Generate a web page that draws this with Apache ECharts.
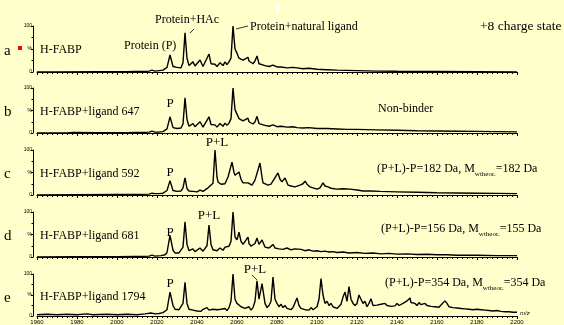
<!DOCTYPE html>
<html>
<head>
<meta charset="utf-8">
<script src="https://cdn.jsdelivr.net/npm/echarts@6/dist/echarts.min.js"></script>
<style>
html, body { margin: 0; padding: 0; background: #ffffcc; }
#chart { width: 564px; height: 325px; }
</style>
</head>
<body>
<div id="chart"></div>
<script>
// m/z range and ticks of the spectra (+8 charge state)
const mzMin = 1960
const mzMax = 2200
const mzStep = 20

// spectra: [m/z, relative intensity %]
const specA = [[1960,0],[1970,0],[1990,0.5],[2005,0.5],[2009,1],[2010,3],[2011,1],[2014,1],[2016,2],[2017.5,4],[2019,2],[2021,3],[2023,4],[2024,6],[2025,10],[2026.5,37],[2028,12],[2029,9],[2030,10],[2031,8],[2032,9],[2033,20],[2034,85],[2035,30],[2036,14],[2037,15],[2038,22],[2039,13],[2040,16],[2041.5,26],[2043,12],[2044,14],[2046,39],[2047,18],[2048,14],[2049,17],[2050,12],[2051.5,20],[2053,14],[2054,22],[2055,16],[2056,22],[2057,30],[2058,100],[2059,50],[2060,41],[2061,30],[2062,33],[2063,26],[2064,28],[2065.5,32],[2066,24],[2067,20],[2068,18],[2069,24],[2070,35],[2071,18],[2072,15],[2074,14],[2076,12],[2078,15],[2080,11],[2082,11],[2085,9],[2088,10],[2090,9],[2093,7],[2096,8],[2100,6],[2105,5],[2110,4],[2115,3.5],[2120,3],[2130,2],[2140,1.5],[2160,1],[2180,0.5],[2200,0]]

const specB = [[1960,0],[1975,0],[1978,1],[1979,2],[1980,1],[1990,0.5],[2005,0.5],[2009,1],[2010,2.5],[2011,1],[2014,1.5],[2016,2],[2017.5,4],[2019,2],[2021,2],[2023,3],[2024,5],[2025,9],[2026.5,36],[2028,12],[2029,8],[2030,10],[2031,9],[2032,11],[2033,20],[2034,78],[2035,30],[2036,15],[2037,17],[2038,21],[2039,14],[2040,16],[2041.5,25],[2043,13],[2044,15],[2046,36],[2047,19],[2048,15],[2049,18],[2050,13],[2051.5,21],[2053,15],[2054,22],[2055,17],[2056,22],[2057,32],[2058,100],[2059,52],[2060,42],[2061,32],[2062,34],[2063,27],[2064,29],[2065.5,33],[2066,25],[2067,22],[2068,20],[2069,25],[2070,37],[2071,21],[2072,18],[2074,17],[2076,15],[2078,18],[2080,14],[2082,15],[2085,13],[2088,14],[2090,12],[2093,11],[2096,12],[2100,10],[2105,10],[2110,9],[2115,8],[2120,8],[2130,7],[2140,6],[2150,5],[2160,4.5],[2170,4],[2180,3.5],[2190,3],[2200,2.5]]

const specC = [[1960,0],[1980,0.5],[2000,1],[2009,1],[2010,2.5],[2011,1.5],[2016,2],[2017.5,4],[2019,3],[2021,3],[2023,4],[2024,6],[2025,10],[2026.5,32],[2028,10],[2029,7],[2030,8],[2031,7],[2032,9],[2033,16],[2034,38],[2035,14],[2036,9],[2037,11],[2038,8],[2039,10],[2040,7],[2041.5,11],[2043,8],[2044,12],[2045,14],[2046.5,20],[2048,26],[2049,100],[2050,40],[2050.5,29],[2052,24],[2053,27],[2054,25],[2055.5,40],[2057.5,73],[2058.5,50],[2059,44],[2060,46],[2061,51],[2062,35],[2063,27],[2064,25],[2065.5,27],[2066.5,24],[2067.5,22],[2069,33],[2071.5,71],[2072.5,40],[2073,27],[2074,25],[2075.5,22],[2077,24],[2078,26],[2080.5,49],[2081.5,35],[2082.5,29],[2084,38],[2085.5,22],[2087,20],[2089,18],[2091.5,22],[2093,25],[2094,31],[2095,24],[2096.5,18],[2098,16],[2100,13],[2101.5,16],[2103,27],[2104,20],[2105.5,18],[2107,15],[2110,13],[2113,14],[2116.5,13],[2120,11],[2123,9],[2127,9],[2131.5,8],[2140,7],[2150,6],[2160,5],[2170,4.5],[2180,4],[2190,3.5],[2200,3]]

const specD = [[1960,0],[1980,0.5],[2000,0.5],[2009,1],[2010,2],[2011,1],[2016,2],[2017.5,4],[2019,2],[2022,3],[2024,5],[2025,10],[2026.5,48],[2028,15],[2029,9],[2030,11],[2031,9],[2032,12],[2033,22],[2034,78],[2035,28],[2036,14],[2037,15],[2038,18],[2039,12],[2040,14],[2041.5,20],[2043,13],[2044,16],[2045,25],[2046,71],[2047,28],[2048,16],[2049,18],[2050,14],[2051.5,20],[2053,15],[2054,22],[2055,18],[2056,24],[2057,35],[2058,100],[2059,45],[2060,38],[2061,55],[2062,35],[2063,28],[2064,32],[2065.5,44],[2066,30],[2067,24],[2068,22],[2069,30],[2070,42],[2071,28],[2072.5,38],[2074,22],[2075,25],[2076,20],[2077,24],[2078,28],[2079,20],[2080,22],[2081,18],[2082,21],[2083,17],[2085,20],[2087,16],[2089,18],[2090,15],[2092,17],[2094,14],[2096,16],[2098,13],[2100,14],[2102,12],[2104,13],[2106,11],[2108,12],[2110,10],[2113,11],[2116,9],[2120,10],[2124,8],[2128,9],[2132,7],[2136,8],[2140,6.5],[2145,7],[2150,5.5],[2155,6],[2160,5],[2165,5],[2170,4],[2180,4],[2190,3],[2200,3]]

const specE = [[1960,3],[1965,4],[1970,3],[1975,4],[1980,3],[1985,5],[1988,3],[1995,4],[2000,3],[2005,4],[2010,3],[2014,5],[2017,7],[2019,5],[2021,6],[2023,8],[2025,15],[2026.5,57],[2028,25],[2029,16],[2030,18],[2031,15],[2032,17],[2033,30],[2034,80],[2035,30],[2036,16],[2037,18],[2038,14],[2039,17],[2040,12],[2041,15],[2042,11],[2043,16],[2044,13],[2045,20],[2046,14],[2047,12],[2048,16],[2049,13],[2050,15],[2051,12],[2052,16],[2053,14],[2054,18],[2055,13],[2056,20],[2057,35],[2058,100],[2059,40],[2060,30],[2061,33],[2062,22],[2063,25],[2064,18],[2065,16],[2066,22],[2067,14],[2068,20],[2069,35],[2070,84],[2071,40],[2072.5,77],[2074,30],[2075,20],[2076,25],[2077,35],[2078,93],[2079,40],[2080,30],[2081,22],[2082,28],[2083,20],[2084,25],[2085,18],[2086,22],[2087,15],[2088,20],[2089,18],[2090,43],[2091,25],[2092,18],[2093,22],[2094,15],[2095,18],[2096,14],[2097,20],[2098,15],[2099,17],[2100,22],[2101,40],[2102,89],[2103,50],[2104,30],[2105,35],[2106,25],[2107,30],[2108,22],[2109,25],[2110,18],[2111,22],[2112,28],[2113,45],[2114,57],[2115,35],[2116,70],[2117,40],[2118,30],[2119,25],[2120,30],[2121,50],[2122,40],[2123,30],[2124,35],[2125,22],[2126,30],[2127,41],[2128,25],[2129,22],[2130,26],[2131,22],[2132,28],[2133,24],[2134,30],[2135,25],[2136,28],[2137,23],[2138,27],[2139,24],[2140,30],[2141,25],[2142,28],[2143,30],[2144,32],[2145,36],[2146.5,43],[2147,32],[2148,28],[2149,30],[2150,25],[2151,32],[2152,27],[2153,24],[2154,30],[2155,25],[2156,28],[2157,23],[2158,26],[2159,22],[2160,25],[2161,21],[2162,26],[2163,30],[2164,36],[2165,30],[2166,22],[2167,25],[2168,20],[2169,23],[2170,19],[2171,22],[2172,18],[2173,21],[2174,17],[2175,20],[2176,16],[2177,19],[2178,15],[2179,18],[2180,16],[2181,19],[2182,15],[2183,17],[2184,14],[2185,16],[2186,13],[2187,16],[2188,12],[2189,15],[2190,13],[2191,15],[2192,11],[2193,14],[2194,10],[2195,13],[2196,10],[2197,12],[2198,9],[2199,11],[2200,9]]

const panelLetters = ['a', 'b', 'c', 'd', 'e']
const panelNames = ['H-FABP', 'H-FABP+ligand 647', 'H-FABP+ligand 592', 'H-FABP+ligand 681', 'H-FABP+ligand 1794']
const spectra = [specA, specB, specC, specD, specE]

// panel layout (pixel tops / heights of each plot)
const tops = [26, 88, 150, 212, 274]
const heights = [46, 45, 45, 45, 44]

const serif = '"Liberation Serif", "DejaVu Serif", serif'
const chart = echarts.init(document.getElementById('chart'))

const grid = [], xAxis = [], yAxis = [], series = [], graphic = []

spectra.forEach((data, i) => {
  const last = i === spectra.length - 1
  grid.push({ left: 37, right: 47, top: tops[i], height: heights[i] })
  xAxis.push({
    type: 'value', gridIndex: i, min: mzMin, max: mzMax, interval: mzStep,
    axisLine: { lineStyle: { color: '#000', width: 1 } },
    axisTick: { show: true, length: 3, lineStyle: { color: '#000' } },
    minorTick: { show: true, splitNumber: 8, length: 2, lineStyle: { color: '#000' } },
    splitLine: { show: false },
    axisLabel: { show: last, fontSize: 6, color: '#000', margin: 3, fontFamily: 'Arial', formatter: v => String(v) },
    name: last ? 'm/z' : '', nameLocation: 'end', nameGap: 3,
    nameTextStyle: { fontSize: 6, color: '#000', verticalAlign: 'bottom', fontStyle: 'italic' }
  })
  yAxis.push({
    type: 'value', gridIndex: i, min: 0, max: 100, interval: 50, offset: 4,
    axisLine: { show: true, lineStyle: { color: '#000', width: 1 } },
    axisTick: { show: true, length: 2, lineStyle: { color: '#000' } },
    minorTick: { show: true, splitNumber: 2, length: 1.5, lineStyle: { color: '#000' } },
    splitLine: { show: false },
    axisLabel: {
      fontSize: 5, color: '#000', margin: 1, fontFamily: 'Arial',
      formatter: v => v === 50 ? '%' : String(v)
    }
  })
  series.push({
    type: 'line', xAxisIndex: i, yAxisIndex: i, data: data,
    symbol: 'none', silent: true, animation: false,
    lineStyle: { color: '#000', width: 1.4 }
  })
  const mid = tops[i] + heights[i] / 2 + 2
  graphic.push({
    type: 'text', x: 4, y: mid,
    style: { text: panelLetters[i], font: '15px ' + serif, fill: '#000', verticalAlign: 'middle' }
  })
  graphic.push({
    type: 'rect', shape: { x: 18, y: mid - 5, width: 4, height: 4 },
    style: { fill: i === 0 ? '#ff0000' : '#ffffff' }
  })
  graphic.push({
    type: 'text', x: 40, y: mid - 1,
    style: { text: panelNames[i], font: '12px ' + serif, fill: '#000', verticalAlign: 'middle' }
  })
})

const txt = (x, y, text, align, size) => ({
  type: 'text', x: x, y: y,
  style: { text: text, font: (size || 12) + 'px ' + serif, fill: '#000', verticalAlign: 'middle', align: align || 'left' }
})
const seg = (x1, y1, x2, y2) => ({
  type: 'line', shape: { x1: x1, y1: y1, x2: x2, y2: y2 }, style: { stroke: '#000', lineWidth: 0.8 }
})
const formula = (x, y, diff, theo) => ({
  type: 'text', x: x, y: y,
  style: {
    text: '(P+L)-P=' + diff + ' Da, M{s|wtheor.}=' + theo + ' Da',
    font: '12px ' + serif, fill: '#000', verticalAlign: 'middle',
    rich: { s: { fontSize: 7, fontFamily: serif, verticalAlign: 'bottom', lineHeight: 17, fill: '#000' } }
  }
})

graphic.push(
  txt(124, 46, 'Protein (P)'),
  txt(155, 20, 'Protein+HAc'),
  seg(190, 33, 194, 29),
  txt(250, 27, 'Protein+natural ligand'),
  seg(236, 29, 248, 26),
  txt(480, 26, '+8 charge state', 'left', 13.5),
  { type: 'rect', shape: { x: 276, y: 5, width: 3, height: 7 }, style: { fill: '#ffffff' } },
  txt(170, 104, 'P', 'center', 13),
  txt(378, 109, 'Non-binder'),
  txt(170, 173, 'P', 'center', 13),
  txt(217, 143, 'P+L', 'center', 13),
  formula(377, 169, 182, 182),
  txt(170, 233, 'P', 'center', 13),
  txt(209, 216, 'P+L', 'center', 13),
  formula(381, 229, 156, 155),
  txt(170, 284, 'P', 'center', 13),
  txt(255, 270, 'P+L', 'center', 13),
  seg(252, 275, 257, 280),
  formula(385, 283, 354, 354)
)

chart.setOption({
  backgroundColor: '#ffffcc',
  animation: false,
  grid: grid,
  xAxis: xAxis,
  yAxis: yAxis,
  series: series,
  graphic: graphic
})
</script>
</body>
</html>
